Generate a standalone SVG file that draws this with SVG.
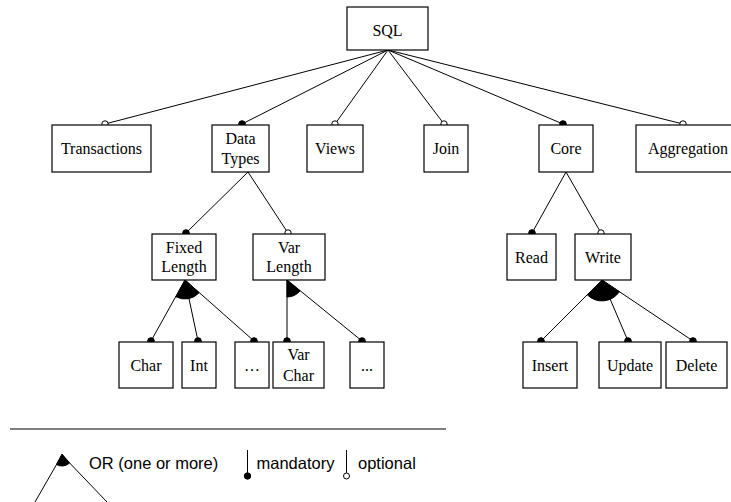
<svg xmlns="http://www.w3.org/2000/svg" width="731" height="502" viewBox="0 0 731 502">
  <style>
    .box { fill: #fff; stroke: #000; stroke-width: 1.2; }
    .lbl { font-family: "Liberation Serif", "Times New Roman", serif; font-size: 16px; fill: #000; text-anchor: middle; }
    .leg { font-family: "Liberation Sans", Arial, sans-serif; font-size: 16.5px; fill: #000; }
    .edge { stroke: #000; stroke-width: 1; fill: none; }
    .man { fill: #000; stroke: #000; stroke-width: 1; }
    .opt { fill: #fff; stroke: #000; stroke-width: 1; }
    .or { fill: #000; stroke: #000; stroke-width: 1; stroke-linejoin: round; }
  </style>
  <rect width="731" height="502" fill="#fff"/>

  <!-- connectors -->
  <g id="connectors">
    <g class="edge">
      <line x1="388" y1="50" x2="105" y2="124"/>
      <line x1="388" y1="50" x2="242" y2="124"/>
      <line x1="388" y1="50" x2="335" y2="124"/>
      <line x1="388" y1="50" x2="444" y2="124"/>
      <line x1="388" y1="50" x2="563" y2="124"/>
      <line x1="388" y1="50" x2="683" y2="124"/>
      <line x1="248" y1="172" x2="186" y2="233"/>
      <line x1="248" y1="172" x2="288" y2="233"/>
      <line x1="566" y1="172" x2="532" y2="233"/>
      <line x1="566" y1="172" x2="601" y2="233"/>
      <line x1="185" y1="280" x2="151" y2="341"/>
      <line x1="185" y1="280" x2="198" y2="341"/>
      <line x1="185" y1="280" x2="254" y2="341"/>
      <line x1="287" y1="280" x2="287" y2="341"/>
      <line x1="287" y1="280" x2="362" y2="341"/>
      <line x1="602" y1="280" x2="541" y2="341"/>
      <line x1="602" y1="280" x2="628" y2="341"/>
      <line x1="602" y1="280" x2="693" y2="341"/>
    </g>
    <!-- OR groups -->
    <path class="or" d="M185 280 L175.9 296.7 A19 19 0 0 0 199.1 292.7 Z"/>
    <path class="or" d="M287 280 L287 297 A17 17 0 0 0 300.1 290.8 Z"/>
    <path class="or" d="M602 280 L587.2 294.8 A21 21 0 0 0 619.4 291.7 Z"/>
    <!-- mandatory ends -->
    <g class="man">
      <circle cx="242" cy="124" r="3.3"/>
      <circle cx="563" cy="124" r="3.3"/>
      <circle cx="186" cy="233" r="3.3"/>
      <circle cx="532" cy="233" r="3.3"/>
      <circle cx="151" cy="341" r="3.3"/>
      <circle cx="198" cy="341" r="3.3"/>
      <circle cx="254" cy="341" r="3.3"/>
      <circle cx="287" cy="341" r="3.3"/>
      <circle cx="362" cy="341" r="3.3"/>
      <circle cx="541" cy="341" r="3.3"/>
      <circle cx="628" cy="341" r="3.3"/>
      <circle cx="693" cy="341" r="3.3"/>
    </g>
    <!-- optional ends -->
    <g class="opt">
      <circle cx="105" cy="124" r="3.2"/>
      <circle cx="335" cy="124" r="3.2"/>
      <circle cx="444" cy="124" r="3.2"/>
      <circle cx="683" cy="124" r="3.2"/>
      <circle cx="288" cy="233" r="3.2"/>
      <circle cx="601" cy="233" r="3.2"/>
    </g>
  </g>

  <!-- nodes -->
  <g id="sql"><rect class="box" x="347" y="7" width="81" height="43"/><text class="lbl" x="387.5" y="35.5">SQL</text></g>
  <g id="transactions"><rect class="box" x="52" y="125" width="99" height="47"/><text class="lbl" x="101.5" y="154">Transactions</text></g>
  <g id="datatypes"><rect class="box" x="212" y="125" width="57" height="47"/><text class="lbl" x="240.5" y="143.8">Data</text><text class="lbl" x="240.5" y="164.3">Types</text></g>
  <g id="views"><rect class="box" x="307" y="125" width="56" height="47"/><text class="lbl" x="335" y="154">Views</text></g>
  <g id="join"><rect class="box" x="424" y="125" width="44" height="47"/><text class="lbl" x="446" y="154">Join</text></g>
  <g id="core"><rect class="box" x="539" y="125" width="54" height="47"/><text class="lbl" x="566" y="154">Core</text></g>
  <g id="aggregation"><rect class="box" x="636" y="125" width="100" height="47"/><text class="lbl" x="688" y="154">Aggregation</text></g>

  <g id="fixedlength"><rect class="box" x="152" y="234" width="64" height="46"/><text class="lbl" x="184" y="253">Fixed</text><text class="lbl" x="184" y="272">Length</text></g>
  <g id="varlength"><rect class="box" x="253" y="234" width="72" height="46"/><text class="lbl" x="289" y="253">Var</text><text class="lbl" x="289" y="272">Length</text></g>
  <g id="read"><rect class="box" x="507" y="234" width="49" height="46"/><text class="lbl" x="531.5" y="262.5">Read</text></g>
  <g id="write"><rect class="box" x="575" y="234" width="56" height="46"/><text class="lbl" x="603" y="262.5">Write</text></g>

  <g id="char"><rect class="box" x="119" y="342" width="54" height="46"/><text class="lbl" x="146" y="370.5">Char</text></g>
  <g id="int"><rect class="box" x="182" y="342" width="34" height="46"/><text class="lbl" x="199" y="370.5">Int</text></g>
  <g id="more1"><rect class="box" x="235" y="342" width="34" height="46"/><text class="lbl" x="252" y="370.5">…</text></g>
  <g id="varchar"><rect class="box" x="273" y="342" width="51" height="46"/><text class="lbl" x="298.5" y="360">Var</text><text class="lbl" x="298.5" y="381">Char</text></g>
  <g id="more2"><rect class="box" x="350" y="342" width="34" height="46"/><text class="lbl" x="367" y="370.5">...</text></g>
  <g id="insert"><rect class="box" x="523" y="342" width="54" height="46"/><text class="lbl" x="550" y="370.5">Insert</text></g>
  <g id="update"><rect class="box" x="599" y="342" width="62" height="46"/><text class="lbl" x="630" y="370.5">Update</text></g>
  <g id="delete"><rect class="box" x="666" y="342" width="61" height="46"/><text class="lbl" x="696.5" y="370.5">Delete</text></g>

  <!-- legend -->
  <g id="legend">
    <line x1="10" y1="429" x2="446" y2="429" stroke="#555" stroke-width="1.3"/>
    <line class="edge" x1="62" y1="455" x2="35" y2="502"/>
    <line class="edge" x1="62" y1="455" x2="107" y2="502"/>
    <path class="or" d="M62 454 L56.5 464.5 A11 11 0 0 0 69.6 463 Z"/>
    <text class="leg" x="89" y="469">OR (one or more)</text>
    <line class="edge" x1="247.5" y1="450" x2="247.5" y2="474"/>
    <circle class="man" cx="247.5" cy="476" r="3.2"/>
    <text class="leg" x="256.5" y="469">mandatory</text>
    <line class="edge" x1="346.5" y1="450" x2="346.5" y2="473"/>
    <circle class="opt" cx="346.5" cy="476" r="3"/>
    <text class="leg" x="358" y="469">optional</text>
  </g>
</svg>
